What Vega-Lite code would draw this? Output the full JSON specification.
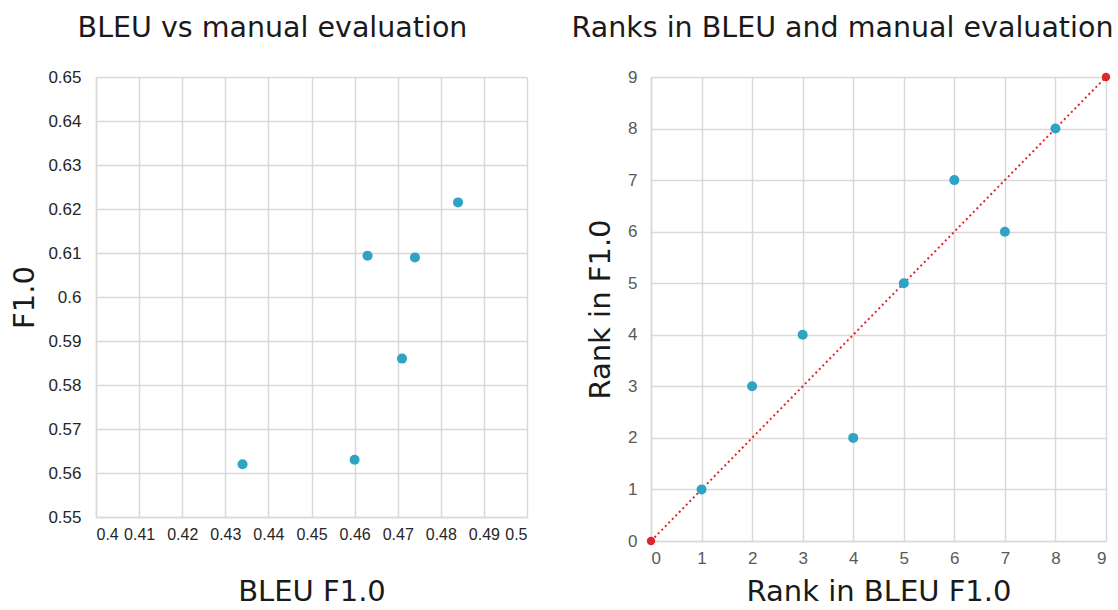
{
  "$schema": "https://vega.github.io/schema/vega-lite/v6.json",
  "background": "white",
  "padding": {"left": 10, "top": 13, "right": 4, "bottom": 0},
  "spacing": 44,
  "config": {
    "font": "DejaVu Sans",
    "view": {"stroke": null},
    "axis": {
      "grid": true,
      "gridColor": "#d9d9d9",
      "gridWidth": 1.5,
      "domainColor": "#d9d9d9",
      "domainWidth": 1.5,
      "ticks": false,
      "labelFont": "Liberation Sans",
      "labelFontSize": 17,
      "titleFont": "DejaVu Sans",
      "titleFontSize": 29,
      "titleFontWeight": "normal",
      "titleColor": "#1a1a1a"
    },
    "title": {"font": "DejaVu Sans", "fontSize": 28.5, "fontWeight": "normal", "color": "#1a1a1a"}
  },
  "datasets": {
    "bleu": [
      {"bleu": 0.434, "f1": 0.562},
      {"bleu": 0.460, "f1": 0.563},
      {"bleu": 0.463, "f1": 0.6094},
      {"bleu": 0.471, "f1": 0.586},
      {"bleu": 0.474, "f1": 0.609},
      {"bleu": 0.484, "f1": 0.6215}
    ],
    "ranks": [
      {"rank_bleu": 1, "rank_f1": 1},
      {"rank_bleu": 2, "rank_f1": 3},
      {"rank_bleu": 3, "rank_f1": 4},
      {"rank_bleu": 4, "rank_f1": 2},
      {"rank_bleu": 5, "rank_f1": 5},
      {"rank_bleu": 6, "rank_f1": 7},
      {"rank_bleu": 7, "rank_f1": 6},
      {"rank_bleu": 8, "rank_f1": 8}
    ],
    "diag": [
      {"rank_bleu": 0, "rank_f1": 0},
      {"rank_bleu": 9, "rank_f1": 9}
    ]
  },
  "hconcat": [
    {
      "title": {"text": "BLEU vs manual evaluation", "offset": 26, "dx": -39},
      "width": 431,
      "height": 440,
      "data": {"name": "bleu"},
      "mark": {"type": "point", "filled": true, "opacity": 1, "size": 100, "color": "#2ea3c4"},
      "encoding": {
        "x": {
          "field": "bleu", "type": "quantitative",
          "scale": {"domain": [0.4, 0.5], "nice": false, "zero": false},
          "axis": {
            "title": "BLEU F1.0",
            "values": [0.4, 0.41, 0.42, 0.43, 0.44, 0.45, 0.46, 0.47, 0.48, 0.49, 0.5],
            "format": ".2~f",
            "labelFontSize": 16,
            "labelColor": "#262626",
            "labelPadding": 9,
            "titlePadding": 35
          }
        },
        "y": {
          "field": "f1", "type": "quantitative",
          "scale": {"domain": [0.55, 0.65], "nice": false, "zero": false},
          "axis": {
            "title": "F1.0",
            "values": [0.55, 0.56, 0.57, 0.58, 0.59, 0.6, 0.61, 0.62, 0.63, 0.64, 0.65],
            "format": ".2~f",
            "labelColor": "#262626",
            "labelPadding": 15,
            "titlePadding": 8
          }
        }
      }
    },
    {
      "title": {"text": "Ranks in BLEU and manual evaluation", "offset": 26, "dx": -36},
      "width": 455,
      "height": 464,
      "layer": [
        {
          "data": {"name": "diag"},
          "mark": {"type": "line", "color": "#e0262b", "strokeWidth": 2, "strokeDash": [2, 3]},
          "encoding": {
            "x": {"field": "rank_bleu", "type": "quantitative"},
            "y": {"field": "rank_f1", "type": "quantitative"}
          }
        },
        {
          "data": {"name": "ranks"},
          "mark": {"type": "point", "filled": true, "opacity": 1, "size": 100, "color": "#2ea3c4"},
          "encoding": {
            "x": {"field": "rank_bleu", "type": "quantitative"},
            "y": {"field": "rank_f1", "type": "quantitative"}
          }
        },
        {
          "data": {"name": "diag"},
          "mark": {"type": "point", "filled": true, "opacity": 1, "size": 70, "color": "#e0262b"},
          "encoding": {
            "x": {
              "field": "rank_bleu", "type": "quantitative",
              "scale": {"domain": [0, 9], "nice": false},
              "axis": {
                "title": "Rank in BLEU F1.0",
                "values": [0, 1, 2, 3, 4, 5, 6, 7, 8, 9],
                "labelColor": "#595959",
                "labelPadding": 9,
                "titlePadding": 11
              }
            },
            "y": {
              "field": "rank_f1", "type": "quantitative",
              "scale": {"domain": [0, 9], "nice": false},
              "axis": {
                "title": "Rank in F1.0",
                "values": [0, 1, 2, 3, 4, 5, 6, 7, 8, 9],
                "labelColor": "#595959",
                "labelPadding": 14,
                "titlePadding": 12
              }
            }
          }
        }
      ]
    }
  ]
}
